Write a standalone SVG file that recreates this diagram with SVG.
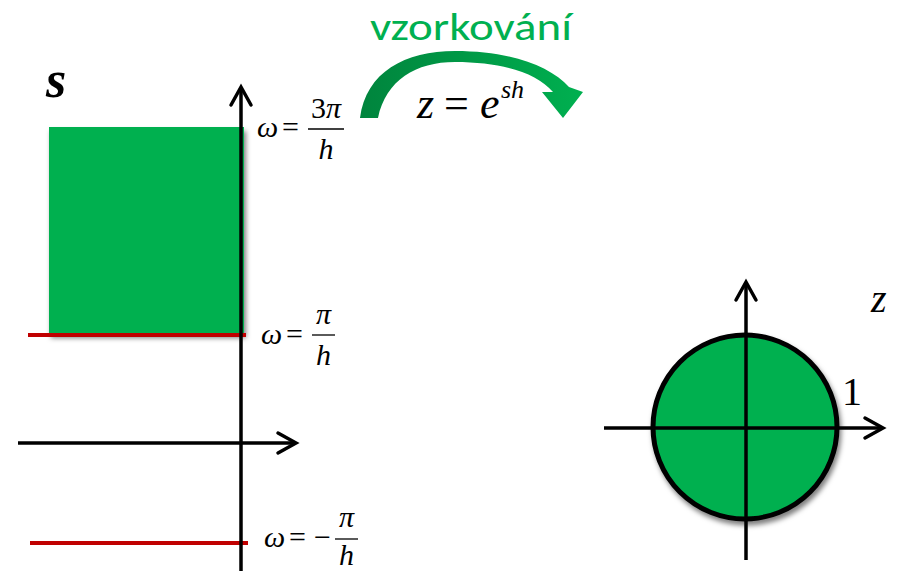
<svg xmlns="http://www.w3.org/2000/svg" width="899" height="571" viewBox="0 0 899 571">
<defs>
  <style>
    .ax{fill:none;stroke:#000;stroke-width:3.5;marker-end:url(#chev)}
    .red{stroke:#c00000;stroke-width:4}
    .m{font-family:"Liberation Serif","Times New Roman",serif;font-style:italic;fill:#000}
    .r{font-family:"Liberation Serif","Times New Roman",serif;fill:#000}
    .fr{stroke:#000;stroke-width:1.3}
    .green{fill:#00b050}
  </style>
  <marker id="chev" viewBox="-24 -14 28 28" markerWidth="28" markerHeight="28" refX="0" refY="0" orient="auto" markerUnits="userSpaceOnUse">
    <path d="M-18,-10 L0,0 L-18,10" fill="none" stroke="#000" stroke-width="3.5" stroke-linecap="round"/>
  </marker>
  <filter id="sh" x="-10%" y="-10%" width="130%" height="130%">
    <feDropShadow dx="2" dy="4" stdDeviation="2.5" flood-color="#000" flood-opacity="0.5"/>
  </filter>
  <linearGradient id="ag" x1="0" y1="0" x2="1" y2="0">
    <stop offset="0" stop-color="#00843d"/>
    <stop offset="1" stop-color="#00b050"/>
  </linearGradient>
</defs>

<g id="s-plane">
  <rect x="49" y="127" width="195" height="207" class="green" filter="url(#sh)"/>
  <line class="red" x1="28" y1="335" x2="246" y2="335"/>
  <line class="red" x1="30" y1="543" x2="248" y2="543"/>
  <line class="ax" x1="241" y1="571" x2="241" y2="87"/>
  <line class="ax" x1="18" y1="443" x2="296" y2="443"/>
  <text class="m" x="46" y="97" font-size="52" font-weight="bold">s</text>
</g>

<g id="label-3pi">
  <text class="m" x="257" y="137" font-size="30">ω</text>
  <text class="r" x="282" y="137" font-size="30">=</text>
  <text class="r" x="326" y="118" font-size="30" text-anchor="middle">3<tspan font-style="italic">π</tspan></text>
  <line class="fr" x1="308" y1="129" x2="344" y2="129"/>
  <text class="m" x="326" y="159" font-size="30" text-anchor="middle">h</text>
</g>

<g id="label-pi">
  <text class="m" x="261" y="344" font-size="30">ω</text>
  <text class="r" x="286" y="344" font-size="30">=</text>
  <text class="m" x="323.500" y="324" font-size="30" text-anchor="middle">π</text>
  <line class="fr" x1="312" y1="335" x2="335" y2="335"/>
  <text class="m" x="323.500" y="365" font-size="30" text-anchor="middle">h</text>
</g>

<g id="label-minus-pi">
  <text class="m" x="264" y="547" font-size="30">ω</text>
  <text class="r" x="289" y="547" font-size="30">=</text>
  <text class="r" x="314" y="547" font-size="30">−</text>
  <text class="m" x="346.500" y="527" font-size="30" text-anchor="middle">π</text>
  <line class="fr" x1="335" y1="539" x2="358" y2="539"/>
  <text class="m" x="346.500" y="565" font-size="30" text-anchor="middle">h</text>
</g>

<g id="z-plane">
  <circle cx="745" cy="427" r="92" class="green" stroke="#000" stroke-width="5" filter="url(#sh)"/>
  <line class="ax" x1="746" y1="560" x2="746" y2="282"/>
  <line class="ax" x1="604" y1="428" x2="883" y2="428"/>
  <text class="m" x="871" y="312" font-size="40">z</text>
  <text class="r" x="842" y="405" font-size="40">1</text>
</g>

<g id="connectors">
  <path id="sampling-arrow" fill="url(#ag)" d="M360,118 C366,72 405,51 455,51 C510,51 550,66 569,87 L583,92 L563,118 L542,92 L553,92 C536,72 500,62 455,62 C416,62 386,80 378,118 Z"/>
  <text x="370" y="40" font-family="Carlito,'Open Sans','Liberation Sans',sans-serif" font-size="38" fill="#00b050" textLength="202" lengthAdjust="spacingAndGlyphs">vzorkování</text>
  <text class="m" x="417" y="118" font-size="44">z</text>
  <text class="r" x="444" y="118" font-size="44">=</text>
  <text class="m" x="480" y="118" font-size="44">e</text>
  <text class="m" x="501" y="98" font-size="26">sh</text>
</g>
</svg>
